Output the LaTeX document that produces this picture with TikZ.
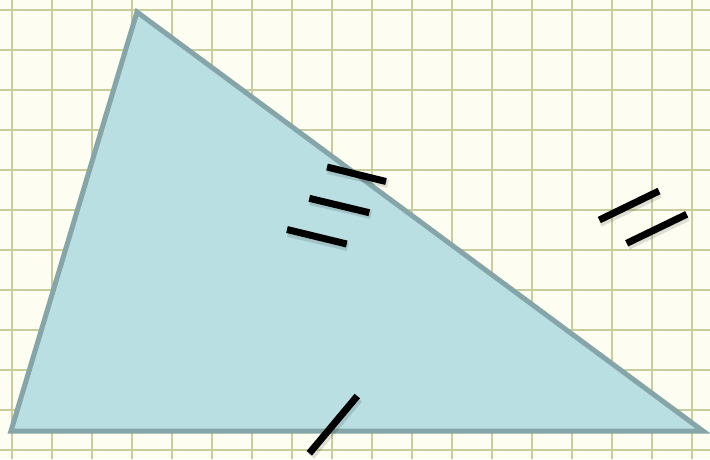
\documentclass[tikz,border=0pt]{standalone}
\usepackage{tikz}
\definecolor{paper}{HTML}{FDFDF2}
\definecolor{gridline}{HTML}{C9CC9C}
\definecolor{triborder}{HTML}{86A5A8}
\definecolor{trifill}{HTML}{B9DFE2}
\begin{document}
\begin{tikzpicture}[x=1pt, y=-1pt,
  hashmark/.style={line width=7pt, black},
  hashshadow/.style={line width=8pt, black, opacity=.12}]
\useasboundingbox (0,0) rectangle (710,459);
\fill[paper] (0,0) rectangle (710,459);
% grid
\foreach \x in {0,...,17} \draw[gridline, line width=2pt] (11.5+40*\x,0) -- (11.5+40*\x,459);
\foreach \y in {0,...,11} \draw[gridline, line width=2pt] (0,10+40*\y) -- (710,10+40*\y);
% triangle
\coordinate (top) at (137,12);
\coordinate (left) at (11,431);
\coordinate (right) at (703,431);
\draw[triborder, fill=trifill, line width=5pt, line join=miter] (top) -- (left) -- (right) -- cycle;
% marks, three on the long side
\draw[hashshadow] (328,170) -- (388,184);
\draw[hashmark] (327,167) -- (386,181.5);
\draw[hashshadow] (310,201) -- (371,215);
\draw[hashmark] (309.3,198.3) -- (369.3,212.7);
\draw[hashshadow] (288,233) -- (348,247);
\draw[hashmark] (287,229.5) -- (346.7,244);
% marks, two on the right
\draw[hashshadow] (600,223) -- (660,194);
\draw[hashmark] (599.3,220) -- (659,191);
\draw[hashshadow] (628,246) -- (688,217);
\draw[hashmark] (626.7,243.3) -- (686.7,214.3);
% mark, one on the base
\draw[hashshadow] (311,456) -- (359,399);
\draw[hashmark] (309.3,453.3) -- (357.3,396);
\end{tikzpicture}
\end{document}
